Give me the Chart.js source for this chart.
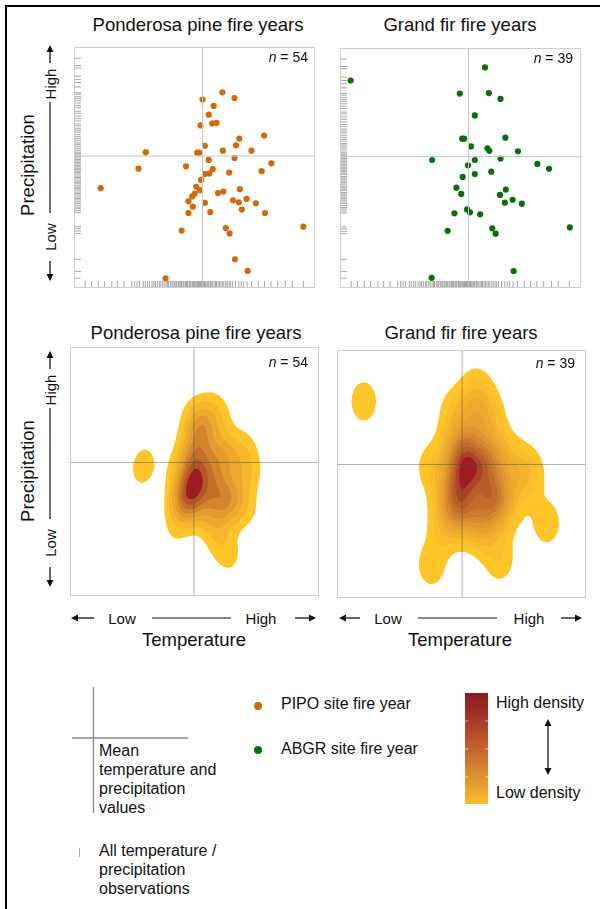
<!DOCTYPE html>
<html>
<head>
<meta charset="utf-8">
<script src="https://cdn.jsdelivr.net/npm/chart.js@4.4.1/dist/chart.umd.min.js"></script>
<style>
  html, body { margin: 0; padding: 0; background: #fff; }
  #page { position: relative; width: 600px; height: 909px; overflow: hidden; background: #fff;
          font-family: 'Liberation Sans', Arial, Helvetica, sans-serif; color: #111; }
  #frame { position: absolute; left: 5px; top: 5px; width: 620px; height: 940px;
           border: 2.5px solid #000; box-sizing: border-box; }
  .panel { position: absolute; }
  .panel canvas { display: block; }
  .t { position: absolute; white-space: nowrap; line-height: 1; }
  .c { transform: translate(-50%, -50%); }
  .l { transform: translateY(-50%); }
  .r { transform: translate(-100%, -50%); }
  .rot { transform: translate(-50%, -50%) rotate(-90deg); }
  #overlay { position: absolute; left: 0; top: 0; }
</style>
</head>
<body>
<div id="page">
  <div id="frame"></div>

  <div class="panel" style="left:70px;top:43px"><canvas id="c-pipo-pts" width="249" height="249"></canvas></div>
  <div class="panel" style="left:336px;top:44px"><canvas id="c-abgr-pts" width="249" height="248"></canvas></div>
  <div class="panel" style="left:70px;top:347px"><canvas id="c-pipo-kde" width="249" height="249"></canvas></div>
  <div class="panel" style="left:337px;top:350px"><canvas id="c-abgr-kde" width="249" height="248"></canvas></div>

  <!-- panel titles -->
  <div class="t c" style="left:198px;top:25px;font-size:18.5px">Ponderosa pine fire years</div>
  <div class="t c" style="left:460px;top:25px;font-size:18.5px">Grand fir fire years</div>
  <div class="t c" style="left:196px;top:333px;font-size:18.5px">Ponderosa pine fire years</div>
  <div class="t c" style="left:461px;top:333px;font-size:18.5px">Grand fir fire years</div>

  <!-- n labels -->
  <div class="t r" id="n1" style="left:308px;top:57px;font-size:14px"></div>
  <div class="t r" id="n2" style="left:573px;top:58px;font-size:14px"></div>
  <div class="t r" id="n3" style="left:308px;top:362px;font-size:14px"></div>
  <div class="t r" id="n4" style="left:575px;top:363px;font-size:14px"></div>

  <!-- y axis labels -->
  <div class="t rot" style="left:28px;top:165px;font-size:18.5px">Precipitation</div>
  <div class="t rot" style="left:50px;top:84px;font-size:15px">High</div>
  <div class="t rot" style="left:50px;top:237px;font-size:15px">Low</div>
  <div class="t rot" style="left:28px;top:471px;font-size:18.5px">Precipitation</div>
  <div class="t rot" style="left:50px;top:390px;font-size:15px">High</div>
  <div class="t rot" style="left:50px;top:543px;font-size:15px">Low</div>

  <!-- x axis labels -->
  <div class="t c" style="left:122px;top:618px;font-size:15px">Low</div>
  <div class="t c" style="left:261px;top:618px;font-size:15px">High</div>
  <div class="t c" style="left:194px;top:640px;font-size:18.5px">Temperature</div>
  <div class="t c" style="left:388px;top:618px;font-size:15px">Low</div>
  <div class="t c" style="left:529px;top:618px;font-size:15px">High</div>
  <div class="t c" style="left:460px;top:640px;font-size:18.5px">Temperature</div>

  <!-- legend -->
  <div class="t l" style="left:99px;top:751px;font-size:16px">Mean</div>
  <div class="t l" style="left:99px;top:770px;font-size:16px">temperature and</div>
  <div class="t l" style="left:99px;top:789px;font-size:16px">precipitation</div>
  <div class="t l" style="left:99px;top:808px;font-size:16px">values</div>
  <div class="t l" style="left:99px;top:851px;font-size:16px">All temperature /</div>
  <div class="t l" style="left:99px;top:870px;font-size:16px">precipitation</div>
  <div class="t l" style="left:99px;top:889px;font-size:16px">observations</div>

  <div class="t l" style="left:281px;top:704px;font-size:16px">PIPO site fire year</div>
  <div class="t l" style="left:281px;top:749px;font-size:16px">ABGR site fire year</div>
  <div style="position:absolute;left:254px;top:702px;width:8px;height:8px;border-radius:50%;background:#D06A0E"></div>
  <div style="position:absolute;left:254px;top:746px;width:8px;height:8px;border-radius:50%;background:#0B6E0B"></div>

  <div style="position:absolute;left:465px;top:693px;width:23px;height:111px;
              background:linear-gradient(to bottom,#8C1A1E 0%,#A8382A 25%,#C4652E 50%,#DD8F2E 75%,#F9BE2D 100%)"></div>
  <div class="t l" style="left:496px;top:703px;font-size:16px">High density</div>
  <div class="t l" style="left:496px;top:793px;font-size:16px">Low density</div>

  <svg id="overlay" width="600" height="909"></svg>
</div>

<script>
// ---- data (standardised anomalies, mean = 0) ----
const pipoTemp   = [0.41, 0.66, 0.00, 0.23, 0.13, 0.20, 0.29, -0.04, 0.76, 1.27, 0.05, 0.69, 0.42, 1.01,
                    -1.17, -0.11, -0.07, 0.66, 0.13, -0.34, -1.32, 0.21, 1.42, 1.22, 0.05, 0.14, 0.55,
                    -0.03, -2.10, -0.13, -0.05, 0.77, 0.43, 0.32, -0.16, -0.21, -0.29, 0.05, 0.63, 0.75,
                    0.91, 1.10, -0.20, 0.81, -0.29, 0.16, 1.29, 2.08, -0.43, 0.48, 0.56, 0.67, 0.93, -0.76];
const pipoPrecip = [1.31, 1.19, 1.16, 1.03, 0.85, 0.67, 0.68, 0.63, 0.36, 0.42, 0.21, 0.22, 0.11, 0.11,
                    0.08, 0.07, 0.07, -0.04, -0.08, -0.21, -0.26, -0.27, -0.15, -0.31, -0.37, -0.36, -0.34,
                    -0.49, -0.66, -0.63, -0.70, -0.68, -0.73, -0.76, -0.77, -0.83, -0.93, -0.96, -0.91, -0.95,
                    -0.88, -0.97, -1.04, -1.10, -1.17, -1.15, -1.17, -1.45, -1.53, -1.48, -1.59, -2.12, -2.36, -2.51];

const abgrTemp   = [-2.43, 0.34, -0.18, 0.42, 0.66, 0.13, -0.13, -0.09, 0.76, 0.05, 0.39, 0.43, 1.02,
                    -0.75, 0.13, 0.66, -0.01, 1.42, 1.66, 0.13, 0.47, -0.12, -0.25, 0.77, -0.15, 0.65,
                    0.91, 0.75, 1.10, -0.03, 0.03, -0.29, 0.24, 2.09, -0.43, 0.49, 0.56, 0.93, -0.76];
const abgrPrecip = [1.57, 1.84, 1.30, 1.31, 1.19, 0.85, 0.37, 0.37, 0.39, 0.21, 0.17, 0.12, 0.11,
                    -0.07, -0.07, -0.04, -0.18, -0.15, -0.25, -0.36, -0.31, -0.42, -0.64, -0.68, -0.77, -0.79,
                    -0.89, -0.95, -0.97, -1.09, -1.15, -1.17, -1.19, -1.46, -1.53, -1.48, -1.59, -2.36, -2.50];

// all observed years (rug marks)
const rugTemp = [-2.42, -2.29, -2.15, -2.02, -1.87, -1.75, -1.62, -1.46, -1.40, -1.35, -1.30, -1.22, -1.18,
                 -1.13, -1.09, -1.04, -1.00, -0.97, -0.93, -0.89, -0.86, -0.82, -0.79, -0.75, -0.72, -0.70,
                 -0.66, -0.63, -0.61, -0.58, -0.55, -0.53, -0.50, -0.48, -0.45, -0.43, -0.40, -0.38, -0.35,
                 -0.33, -0.31, -0.28, -0.26, -0.24, -0.21, -0.19, -0.17, -0.15, -0.12, -0.10, -0.08, -0.06,
                 -0.04, -0.02, 0.00, 0.02, 0.04, 0.06, 0.09, 0.11, 0.13, 0.16, 0.18, 0.21, 0.24, 0.27, 0.29,
                 0.32, 0.35, 0.38, 0.41, 0.44, 0.48, 0.51, 0.55, 0.58, 0.62, 0.68, 0.75, 0.80, 0.85, 0.92,
                 1.01, 1.15, 1.28, 1.41, 1.55, 1.71, 1.85, 2.08];
const rugPrecip = [2.01, 1.86, 1.81, 1.64, 1.57, 1.51, 1.42, 1.30, 1.27, 1.22, 1.18, 1.14, 1.09, 1.04, 0.99,
                   0.92, 0.88, 0.82, 0.77, 0.72, 0.66, 0.62, 0.57, 0.53, 0.49, 0.44, 0.40, 0.36, 0.32, 0.27,
                   0.24, 0.20, 0.16, 0.12, 0.08, 0.05, 0.02, -0.01, -0.04, -0.07, -0.10, -0.13, -0.16, -0.19,
                   -0.22, -0.25, -0.28, -0.31, -0.34, -0.37, -0.41, -0.44, -0.47, -0.51, -0.54, -0.57, -0.61,
                   -0.64, -0.67, -0.70, -0.74, -0.77, -0.80, -0.84, -0.87, -0.90, -0.94, -0.97, -1.01, -1.05,
                   -1.08, -1.12, -1.16, -1.45, -1.49, -1.54, -1.59, -2.12, -2.37, -2.51];

// axis ranges (same units, mean at 0)
const ptsRangeX = [-2.65, 2.32];
const ptsRangeY = [-2.71, 2.24];
const kdeRangeX = { pipo: [-3.06, 3.09], abgr: [-3.09, 3.06] };
const kdeRangeY = { pipo: [-3.325, 2.875], abgr: [-3.325, 2.85] };

const PIPO_COLOR = '#D06A0E';
const ABGR_COLOR = '#0B6E0B';

// density ramp, low -> high
const RAMP = [
  [0.00, 255, 198, 44],
  [0.45, 226, 152, 47],
  [0.86, 178,  86, 40],
  [1.00, 160,  28, 34],
];

function rampColor(t) {
  for (let i = 1; i < RAMP.length; i++) {
    if (t <= RAMP[i][0]) {
      const a = RAMP[i - 1], b = RAMP[i];
      const f = (t - a[0]) / (b[0] - a[0]);
      return [0, 1, 2].map(k => a[k + 1] + (b[k + 1] - a[k + 1]) * f);
    }
  }
  return RAMP[RAMP.length - 1].slice(1);
}

// rug marks along the left and bottom edges
const rugPlugin = {
  id: 'rug',
  beforeDatasetsDraw(chart, args, opts) {
    if (!opts.xs) return;
    const { ctx, chartArea: a, scales: { x, y } } = chart;
    ctx.save();
    ctx.strokeStyle = 'rgba(80,80,80,0.5)';
    ctx.lineWidth = 1;
    opts.xs.forEach(v => {
      const px = x.getPixelForValue(v);
      ctx.beginPath(); ctx.moveTo(px, a.bottom - 1); ctx.lineTo(px, a.bottom - 7); ctx.stroke();
    });
    opts.ys.forEach(v => {
      const py = y.getPixelForValue(v);
      ctx.beginPath(); ctx.moveTo(a.left + 1, py); ctx.lineTo(a.left + 7, py); ctx.stroke();
    });
    ctx.restore();
  },
};

// 2-d gaussian kernel density, filled by levels
const densityPlugin = {
  id: 'density',
  beforeDatasetsDraw(chart, args, opts) {
    if (!opts.xs) return;
    const { ctx, chartArea: a, scales: { x, y } } = chart;
    const w = Math.round(a.right - a.left), h = Math.round(a.bottom - a.top);
    const ss = 3, W = w * ss, H = h * ss;
    const gx = new Float64Array(W), gy = new Float64Array(H);
    for (let i = 0; i < W; i++) gx[i] = x.getValueForPixel(a.left + (i + 0.5) / ss);
    for (let j = 0; j < H; j++) gy[j] = y.getValueForPixel(a.top + (j + 0.5) / ss);
    const grid = new Float64Array(W * H);
    const ex = new Float64Array(W);
    const [hx, hy] = opts.bw;
    opts.xs.forEach((xv, k) => {
      const yv = opts.ys[k];
      for (let i = 0; i < W; i++) { const d = (gx[i] - xv) / hx; ex[i] = Math.exp(-0.5 * d * d); }
      for (let j = 0; j < H; j++) {
        const d = (gy[j] - yv) / hy;
        const e = Math.exp(-0.5 * d * d);
        if (e < 1e-6) continue;
        const row = j * W;
        for (let i = 0; i < W; i++) grid[row + i] += e * ex[i];
      }
    });
    let max = 0;
    for (let i = 0; i < grid.length; i++) if (grid[i] > max) max = grid[i];
    const N = opts.levels;
    const colors = [];
    for (let L = 1; L <= N; L++) colors[L] = rampColor(N === 1 ? 1 : (L - 1) / (N - 1));

    const img = ctx.createImageData(w, h);
    for (let py = 0; py < h; py++) {
      for (let px = 0; px < w; px++) {
        let r = 0, g = 0, b = 0, cnt = 0;
        for (let sy = 0; sy < ss; sy++) {
          for (let sx = 0; sx < ss; sx++) {
            const d = grid[(py * ss + sy) * W + px * ss + sx];
            let L = Math.floor(d / max * (N + 1));
            if (L > N) L = N;
            if (L < 1) continue;
            const c = colors[L];
            r += c[0]; g += c[1]; b += c[2]; cnt++;
          }
        }
        if (!cnt) continue;
        const o = (py * w + px) * 4;
        img.data[o] = r / cnt; img.data[o + 1] = g / cnt; img.data[o + 2] = b / cnt;
        img.data[o + 3] = 255 * cnt / (ss * ss);
      }
    }
    const off = document.createElement('canvas');
    off.width = w; off.height = h;
    off.getContext('2d').putImageData(img, 0, 0);
    ctx.drawImage(off, a.left, a.top);
  },
};

const framePlugin = {
  id: 'frame',
  afterDraw(chart) {
    const { ctx, chartArea: a } = chart;
    ctx.save();
    ctx.strokeStyle = '#cfcfcf';
    ctx.lineWidth = 1;
    ctx.strokeRect(a.left + 0.5, a.top + 0.5, a.right - a.left - 1, a.bottom - a.top - 1);
    ctx.restore();
  },
};

function meanLines(rx, ry, color) {
  const common = { showLine: true, borderColor: color, borderWidth: 1, pointRadius: 0, fill: false };
  return [
    { ...common, data: [{ x: 0, y: ry[0] }, { x: 0, y: ry[1] }] },
    { ...common, data: [{ x: rx[0], y: 0 }, { x: rx[1], y: 0 }] },
  ];
}

function makeChart(id, datasets, rx, ry, pluginOpts) {
  return new Chart(document.getElementById(id), {
    type: 'scatter',
    data: { datasets },
    plugins: [rugPlugin, densityPlugin, framePlugin],
    options: {
      responsive: false,
      animation: false,
      events: [],
      layout: { padding: 0 },
      plugins: {
        legend: { display: false },
        tooltip: { enabled: false },
        ...pluginOpts,
      },
      scales: {
        x: { type: 'linear', min: rx[0], max: rx[1], display: false },
        y: { type: 'linear', min: ry[0], max: ry[1], display: false },
      },
    },
  });
}

function toPoints(xs, ys) { return xs.map((v, i) => ({ x: v, y: ys[i] })); }

function pointSet(xs, ys, color) {
  return { data: toPoints(xs, ys), backgroundColor: color, borderColor: color, borderWidth: 0, pointRadius: 3.1 };
}

const rugOpts = { rug: { xs: rugTemp, ys: rugPrecip } };

makeChart('c-pipo-pts',
  [...meanLines(ptsRangeX, ptsRangeY, '#c6c6c6'), pointSet(pipoTemp, pipoPrecip, PIPO_COLOR)],
  ptsRangeX, ptsRangeY, rugOpts);
makeChart('c-abgr-pts',
  [...meanLines(ptsRangeX, ptsRangeY, '#c6c6c6'), pointSet(abgrTemp, abgrPrecip, ABGR_COLOR)],
  ptsRangeX, ptsRangeY, rugOpts);
makeChart('c-pipo-kde',
  meanLines(kdeRangeX.pipo, kdeRangeY.pipo, 'rgba(70,70,70,0.45)'),
  kdeRangeX.pipo, kdeRangeY.pipo,
  { density: { xs: pipoTemp, ys: pipoPrecip, bw: [0.26, 0.40], levels: 8 } });
makeChart('c-abgr-kde',
  meanLines(kdeRangeX.abgr, kdeRangeY.abgr, 'rgba(70,70,70,0.45)'),
  kdeRangeX.abgr, kdeRangeY.abgr,
  { density: { xs: abgrTemp, ys: abgrPrecip, bw: [0.29, 0.46], levels: 12 } });

document.getElementById('n1').innerHTML = '<i>n</i> = ' + pipoTemp.length;
document.getElementById('n2').innerHTML = '<i>n</i> = ' + abgrTemp.length;
document.getElementById('n3').innerHTML = '<i>n</i> = ' + pipoTemp.length;
document.getElementById('n4').innerHTML = '<i>n</i> = ' + abgrTemp.length;

// decorative arrows / lines
const svg = document.getElementById('overlay');
function line(x1, y1, x2, y2, color, w) {
  svg.insertAdjacentHTML('beforeend',
    `<line x1="${x1}" y1="${y1}" x2="${x2}" y2="${y2}" stroke="${color}" stroke-width="${w}"/>`);
}
function arrow(x1, y1, x2, y2) {
  // head at (x2, y2)
  const dx = x2 - x1, dy = y2 - y1, len = Math.hypot(dx, dy);
  const ux = dx / len, uy = dy / len, hl = 7, hw = 3.5;
  const bx = x2 - ux * hl, by = y2 - uy * hl;
  line(x1, y1, bx, by, '#111', 1.3);
  svg.insertAdjacentHTML('beforeend',
    `<polygon points="${x2},${y2} ${bx - uy * hw},${by + ux * hw} ${bx + uy * hw},${by - ux * hw}" fill="#111"/>`);
}
[0, 306].forEach(off => {
  arrow(50, 63 + off, 50, 45 + off);
  line(50, 102 + off, 50, 213 + off, '#111', 1.2);
  arrow(50, 261 + off, 50, 281 + off);
});
[[71, 94, 152, 231, 295, 316], [339, 360, 418, 497, 561, 582]].forEach(([a1, a2, l1, l2, b1, b2]) => {
  arrow(a2, 618, a1, 618);
  line(l1, 618, l2, 618, '#111', 1.2);
  arrow(b1, 618, b2, 618);
});
// legend: mean cross, rug mark, double arrow, colour bar ticks
line(93.5, 687, 93.5, 813, '#8a8a8a', 1.3);
line(72, 738, 188, 738, '#8a8a8a', 1.3);
line(79.5, 848, 79.5, 857, '#aaa', 1);
arrow(548, 747, 548, 719);
arrow(548, 747, 548, 775);
[721, 749, 777].forEach(yy => {
  line(465, yy, 468, yy, 'rgba(255,255,255,0.6)', 1);
  line(485, yy, 488, yy, 'rgba(255,255,255,0.6)', 1);
});
</script>
</body>
</html>
